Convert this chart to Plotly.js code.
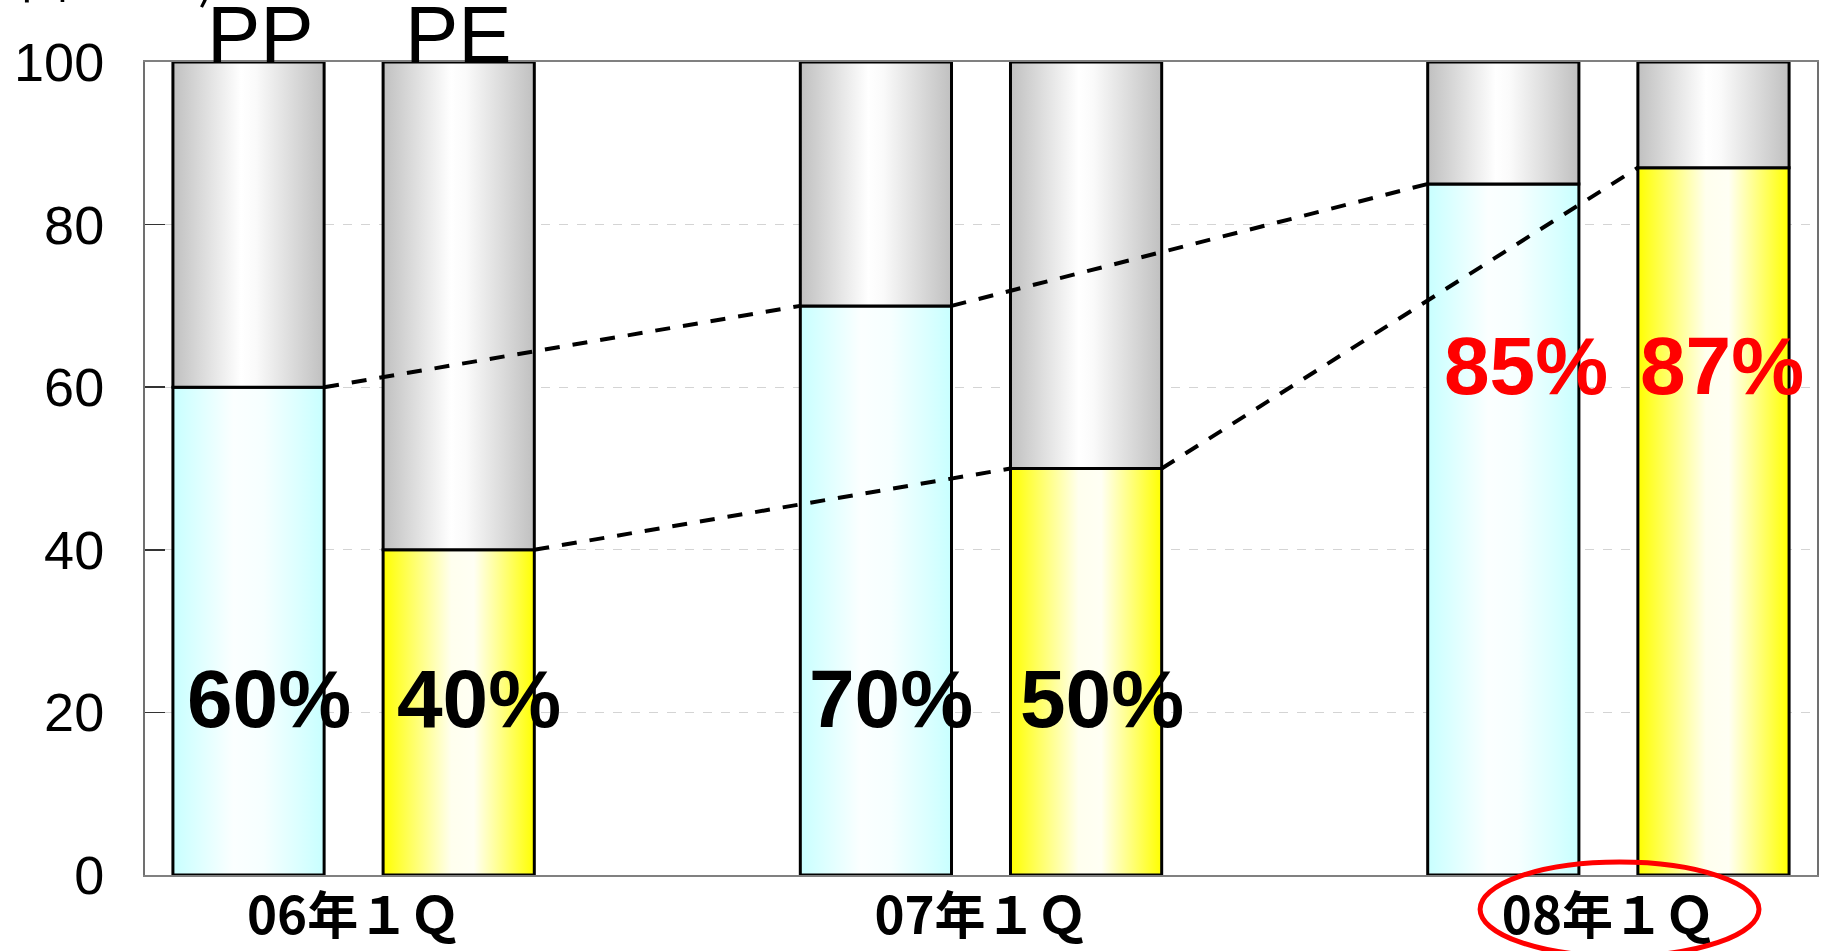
<!DOCTYPE html>
<html>
<head>
<meta charset="utf-8">
<script src="https://cdn.plot.ly/plotly-3.0.1.min.js"></script>
<style>
  html, body { margin: 0; padding: 0; background: #fff; }
  #chart { width: 1826px; height: 951px; }
</style>
</head>
<body>
<div id="chart"></div>
<script>
// ---- data ----
const categories = ['06年１Ｑ', '07年１Ｑ', '08年１Ｑ'];
const seriesNames = ['PP', 'PE'];
const ppShare = [60, 70, 85];
const peShare = [40, 50, 87];
const totalShare = 100;
const unitLabel = '単位：%)';

// ---- layout constants ----
const idx = categories.map((c, i) => i);
const barWidth = 0.241;
const ppOffset = -0.288;
const peOffset = 0.047;

function barTraces(vals, offset, name) {
  return [
    { type: 'bar', name: name, x: idx, y: vals, width: barWidth, offset: offset,
      marker: { color: '#ccffff', line: { color: '#000', width: 3 } }, hoverinfo: 'skip' },
    { type: 'bar', name: name + ' rest', x: idx, y: vals.map(v => totalShare - v), base: vals,
      width: barWidth, offset: offset,
      marker: { color: '#c0c0c0', line: { color: '#000', width: 3 } }, hoverinfo: 'skip' }
  ];
}

const ppBars = barTraces(ppShare, ppOffset, seriesNames[0]);
const peBars = barTraces(peShare, peOffset, seriesNames[1]);
peBars[0].marker.color = '#ffff00';

function connector(vals, offset) {
  const xs = [], ys = [];
  for (let i = 0; i < vals.length - 1; i++) {
    xs.push(idx[i] + offset + barWidth, idx[i + 1] + offset, null);
    ys.push(vals[i], vals[i + 1], null);
  }
  return { type: 'scatter', mode: 'lines', x: xs, y: ys, connectgaps: false,
           line: { color: '#000', width: 4, dash: '15px,13px' }, hoverinfo: 'skip' };
}

const data = [...ppBars, ...peBars, connector(ppShare, ppOffset), connector(peShare, peOffset)];

const labelY = [21.7, 21.7, 62.7];
const labelColor = ['#000', '#000', '#ff0000'];
const ppShift = [20, 15, 23];
const peShift = [20, 16, 9];
const pctFont = c => ({ family: 'Liberation Sans, Arial, sans-serif', size: 82, color: c, weight: 'bold' });
const annotations = [];
idx.forEach(i => {
  annotations.push({ x: i + ppOffset + barWidth / 2, y: labelY[i], xref: 'x', yref: 'y',
    text: ppShare[i] + '%', showarrow: false, xshift: ppShift[i], font: pctFont(labelColor[i]) });
  annotations.push({ x: i + peOffset + barWidth / 2, y: labelY[i], xref: 'x', yref: 'y',
    text: peShare[i] + '%', showarrow: false, xshift: peShift[i], font: pctFont(labelColor[i]) });
});
annotations.push({ x: idx[0] + ppOffset + barWidth / 2, y: totalShare, xref: 'x', yref: 'y',
  text: seriesNames[0], showarrow: false, yanchor: 'bottom', yshift: -19, xshift: 12,
  font: { family: 'Liberation Sans, Arial, sans-serif', size: 80, color: '#000' } });
annotations.push({ x: idx[0] + peOffset + barWidth / 2, y: totalShare, xref: 'x', yref: 'y',
  text: seriesNames[1], showarrow: false, yanchor: 'bottom', yshift: -19,
  font: { family: 'Liberation Sans, Arial, sans-serif', size: 80, color: '#000' } });
annotations.push({ x: -145 / 1672, y: 875 / 813, xref: 'paper', yref: 'paper',
  text: unitLabel, showarrow: false, xanchor: 'left', yanchor: 'bottom', yshift: -14,
  font: { family: 'Noto Sans CJK JP', size: 50, color: '#000' } });

const layout = {
  width: 1826, height: 951,
  margin: { l: 145, r: 9, t: 62, b: 76, pad: 0 },
  paper_bgcolor: '#fff', plot_bgcolor: '#fff',
  showlegend: false,
  barmode: 'overlay',
  xaxis: {
    range: [-0.3325, 2.3325], tickmode: 'array', tickvals: idx, ticktext: categories,
    showgrid: false, zeroline: false, showline: true, mirror: true,
    linecolor: '#808080', linewidth: 2, ticks: '', layer: 'below traces',
    ticklabelstandoff: -4,
    tickfont: { family: 'Noto Sans CJK JP', size: 51, color: '#000', weight: 'bold' }
  },
  yaxis: {
    range: [0, 100], tick0: 0, dtick: 20, ticks: 'inside', ticklen: 20, tickwidth: 1.5,
    tickcolor: '#333', showline: true, mirror: true, linecolor: '#707070', linewidth: 2,
    showgrid: true, gridcolor: '#d4d4d4', griddash: 'dash', gridwidth: 1, zeroline: false,
    layer: 'below traces', ticklabelstandoff: 28,
    tickfont: { family: 'Liberation Sans, Arial, sans-serif', size: 54, color: '#000' }
  },
  annotations: annotations,
  shapes: [{
    type: 'circle', xref: 'paper', yref: 'paper', layer: 'above',
    x0: 0.7985, x1: 0.9653, y0: -0.1, y1: 0.016,
    line: { color: '#ff0000', width: 5 }
  }]
};

const gd = document.getElementById('chart');
Plotly.newPlot(gd, data, layout, { staticPlot: true }).then(() => {
  const NS = 'http://www.w3.org/2000/svg';
  const svg = gd.querySelector('.main-svg');
  const defs = document.createElementNS(NS, 'defs');
  const grads = {
    gradCyan: [[0, '#c8ffff'], [0.4, '#fbffff'], [0.6, '#f6ffff'], [1, '#c8ffff']],
    gradGray: [[0, '#c0c0c0'], [0.45, '#ffffff'], [0.55, '#fafafa'], [1, '#c0c0c0']],
    gradYellow: [[0, '#ffff00'], [0.45, '#ffffee'], [0.6, '#fffff4'], [1, '#ffff00']]
  };
  Object.keys(grads).forEach(id => {
    const g = document.createElementNS(NS, 'linearGradient');
    g.setAttribute('id', id);
    g.setAttribute('x1', '0'); g.setAttribute('x2', '1');
    g.setAttribute('y1', '0'); g.setAttribute('y2', '0');
    grads[id].forEach(([o, c]) => {
      const s = document.createElementNS(NS, 'stop');
      s.setAttribute('offset', o);
      s.setAttribute('stop-color', c);
      g.appendChild(s);
    });
    defs.appendChild(g);
  });
  svg.insertBefore(defs, svg.firstChild);
  const fills = ['gradCyan', 'gradGray', 'gradYellow', 'gradGray'];
  gd.querySelectorAll('.barlayer .trace').forEach((t, k) => {
    t.querySelectorAll('path').forEach(p => { p.style.fill = 'url(#' + fills[k] + ')'; });
  });
});
</script>
</body>
</html>
